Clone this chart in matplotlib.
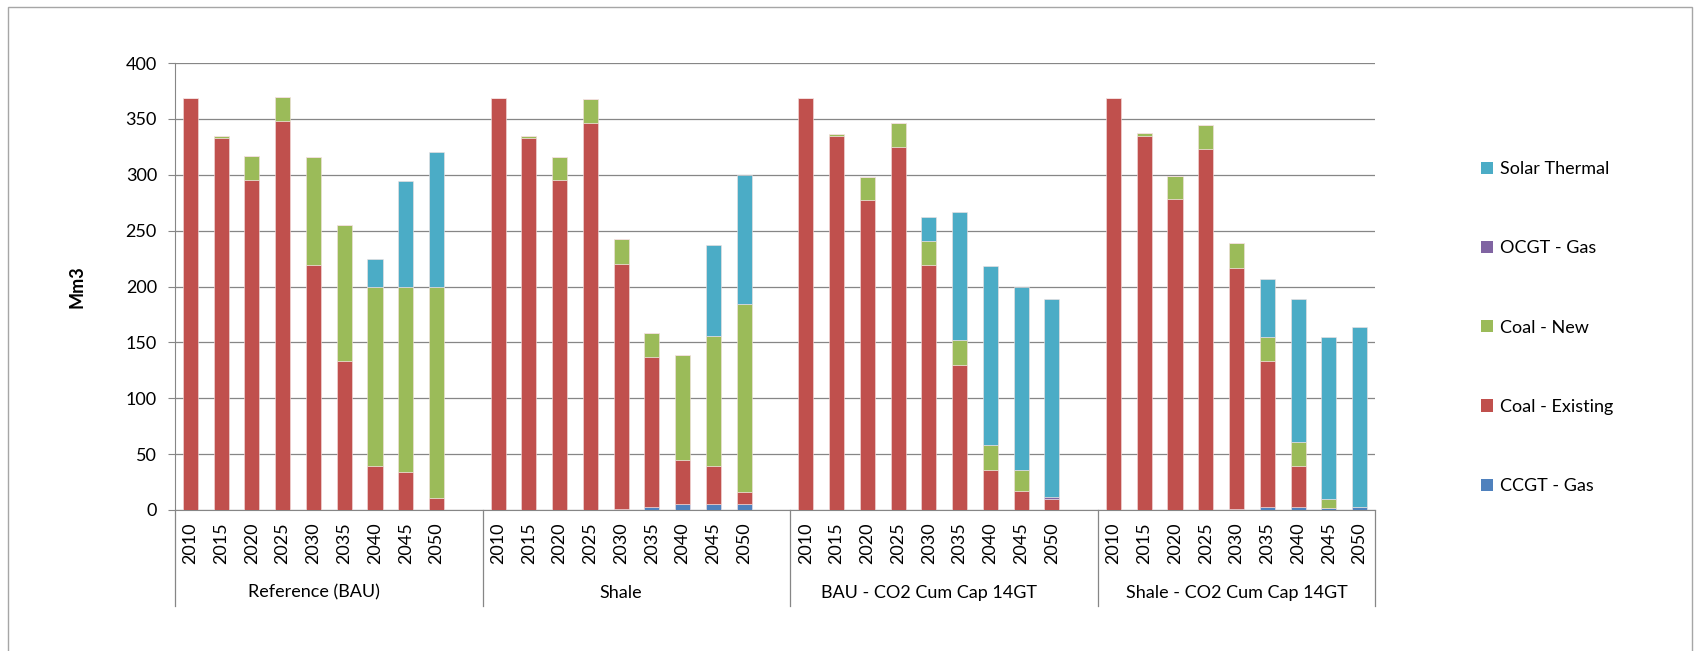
import numpy as np
import matplotlib
matplotlib.use('Agg')
import matplotlib.pyplot as plt
from matplotlib.patches import Rectangle, Patch
import matplotlib.transforms as mtransforms

plt.rcParams['font.family'] = ['Lato', 'DejaVu Sans']

years = ['2010', '2015', '2020', '2025', '2030', '2035', '2040', '2045', '2050']
scenarios = ['Reference (BAU)', 'Shale', 'BAU - CO2 Cum Cap 14GT', 'Shale - CO2 Cum Cap 14GT']

# values per scenario, 9 years each (Mm3)
ccgt_gas = [0, 0, 0, 0, 0, 0, 0, 0, 0,
            0, 0, 0, 0, 0.5, 2.5, 5, 5, 5,
            0, 0, 0, 0, 0, 0, 0, 0, 0,
            0, 0, 0, 0, 1, 2.5, 2.5, 1.5, 2.5]
coal_existing = [369, 333, 295, 348, 219, 133, 39, 34, 11,
                 369, 333, 295, 346, 220, 134, 39.5, 34, 11.5,
                 369, 335, 277, 325, 219, 130, 36, 17, 10,
                 369, 335, 278, 323, 216, 130.5, 36.5, 0, 0]
coal_new = [0, 2, 22, 22, 97, 122, 161, 166, 189,
            0, 1.5, 21, 21.5, 22, 22, 94, 117, 168,
            0, 1.5, 21, 21, 22, 22, 22, 18.5, 0,
            0, 2, 21, 21.5, 21.5, 21.5, 22, 8.5, 0]
ocgt_gas = [0, 0, 0, 0, 0, 0, 0, 0, 0,
            0, 0, 0, 0, 0, 0, 0, 0, 0,
            0, 0, 0, 0, 0, 0, 0, 0, 1.2,
            0, 0, 0, 0, 0, 0, 0, 0, 0]
solar_thermal = [0, 0, 0, 0, 0, 0, 25, 94, 120,
                 0, 0, 0, 0, 0, 0, 0, 81, 115,
                 0, 0, 0, 0, 21.5, 115, 160, 164, 178,
                 0, 0, 0, 0, 0, 52, 127.5, 145, 161.5]

series = [('CCGT - Gas', ccgt_gas, '#4F81BD'),
          ('Coal - Existing', coal_existing, '#C0504D'),
          ('Coal - New', coal_new, '#9BBB59'),
          ('OCGT - Gas', ocgt_gas, '#8064A2'),
          ('Solar Thermal', solar_thermal, '#4BACC6')]

# slot positions: 10 slots per scenario (last is the empty gap)
pos = np.array([g * 10 + i for g in range(len(scenarios)) for i in range(len(years))])

W, H = 1694, 651
fig = plt.figure(figsize=(W / 100, H / 100), dpi=100)
ax = fig.add_axes([175 / W, 1 - 510 / H, 1200 / W, 447 / H])

bottom = np.zeros(len(pos))
for name, vals, col in series:
    vals = np.array(vals, dtype=float)
    ax.bar(pos, vals, width=0.49, bottom=bottom, color=col, edgecolor='#f4e0e0',
           linewidth=0.4, zorder=3)
    bottom += vals

ax.set_xlim(-0.5, 38.5)
ax.set_ylim(0, 400)
ax.set_yticks(np.arange(0, 401, 50))
ax.yaxis.grid(True, color='#868686', linewidth=0.9)
ax.set_axisbelow(True)
for s in ['top', 'right']:
    ax.spines[s].set_visible(False)
ax.spines['left'].set_color('#868686')
ax.spines['bottom'].set_color('#868686')
ax.tick_params(axis='y', length=5, color='#868686', labelsize=13, pad=8)
ax.set_xticks([])
ax.set_ylabel('Mm3', fontsize=13, fontweight='bold', labelpad=29)

# category labels
trans = mtransforms.blended_transform_factory(ax.transData, ax.transAxes)
for p, k in zip(pos, range(len(pos))):
    ax.text(p, -0.028, years[k % 9], transform=trans, rotation=90, ha='center', va='top',
            fontsize=13)
for g, name in enumerate(scenarios):
    ax.text(g * 10 + 4, -0.185, name, transform=trans, ha='center', va='center', fontsize=13)
for xb in [-0.5, 9.5, 19.5, 29.5, 38.5]:
    ax.plot([xb, xb], [0, -0.215], transform=trans, color='#868686', linewidth=0.9,
            clip_on=False)

# legend
handles = [Patch(facecolor=c, label=n) for n, v, c in series][::-1]
fig.legend(handles=handles, loc='upper left', bbox_to_anchor=(1465 / W, 1 - 145 / H),
           frameon=False, fontsize=13, handlelength=0.65, handleheight=0.65,
           handletextpad=0.4, labelspacing=3.5)

fig.patches.append(Rectangle((8 / W, -0.05), 1684 / W, 1.05 - 7 / H, transform=fig.transFigure,
                             fill=False, edgecolor='#A6A6A6', linewidth=1.0))

fig.savefig('out.png', dpi=100)
